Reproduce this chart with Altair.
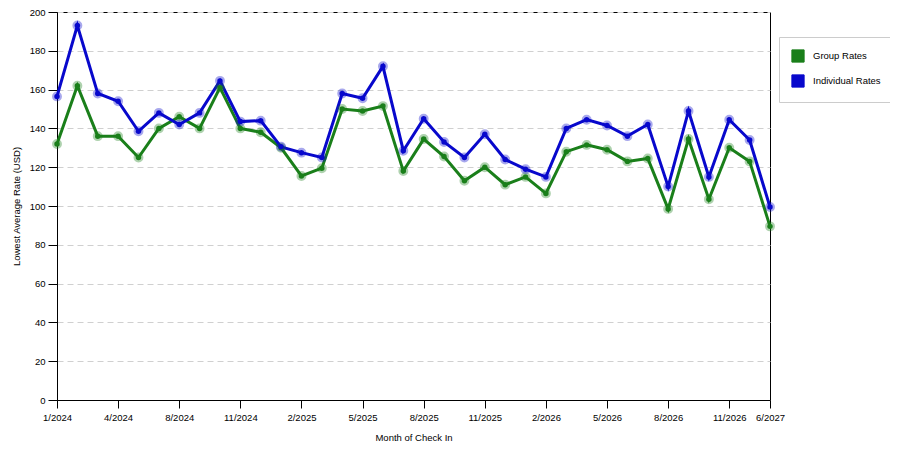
import altair as alt
import pandas as pd

months = [
    "1/2024", "2/2024", "3/2024", "4/2024", "5/2024", "7/2024",
    "8/2024", "9/2024", "10/2024", "11/2024", "12/2024", "1/2025",
    "2/2025", "3/2025", "4/2025", "5/2025", "6/2025", "7/2025",
    "8/2025", "9/2025", "10/2025", "11/2025", "12/2025", "1/2026",
    "2/2026", "3/2026", "4/2026", "5/2026", "6/2026", "7/2026",
    "8/2026", "9/2026", "10/2026", "11/2026", "12/2026", "6/2027",
]
tick_months = [
    "1/2024", "4/2024", "8/2024", "11/2024", "2/2025", "5/2025", "8/2025",
    "11/2025", "2/2026", "5/2026", "8/2026", "11/2026", "6/2027",
]
group_rates = [
    132, 162, 136, 136, 125, 140, 146, 140, 161, 140, 138, 130,
    115.5, 119.5, 150, 149, 151.5, 118, 134.5, 125.5, 113, 120, 111, 115,
    106.5, 128, 131.5, 129, 123, 124.5, 98.5, 134.5, 103.5, 130, 123, 89.5,
]
individual_rates = [
    156.5, 193, 158, 154, 138.5, 148, 142, 148, 164.5, 143.5, 144, 130.5,
    127.5, 125, 158, 155.5, 172, 128.5, 145, 133, 125, 137, 124, 119,
    115, 140, 144.5, 141.5, 136, 142, 110, 149, 115, 144.5, 134, 99.5,
]
series = ["Group Rates", "Individual Rates"]
colors = ["#1a7f1a", "#0808cc"]

df = pd.concat(
    [
        pd.DataFrame({"month": months, "rate": group_rates, "series": series[0]}),
        pd.DataFrame({"month": months, "rate": individual_rates, "series": series[1]}),
    ],
    ignore_index=True,
)

FONT = "Liberation Sans"

x = alt.X(
    "month:N",
    sort=months,
    scale=alt.Scale(type="point", padding=0),
    title="Month of Check In",
    axis=alt.Axis(
        values=tick_months, labelAngle=0, tickSize=8, labelPadding=4,
        grid=False, titlePadding=11, domainColor="#000", tickColor="#000",
    ),
)
y = alt.Y(
    "rate:Q",
    scale=alt.Scale(domain=[0, 200]),
    title="Lowest Average Rate (USD)",
    axis=alt.Axis(
        values=list(range(0, 201, 20)), tickSize=9, labelPadding=3,
        titlePadding=8, grid=True, gridColor="#d0d0d0", gridDash=[6, 4],
        domainColor="#000", tickColor="#000",
    ),
)
color_scale = alt.Scale(domain=series, range=colors)

legend = alt.Legend(
    title=None, orient="none", legendX=722, legendY=25,
    symbolType="square", symbolSize=150, symbolStrokeColor="#222",
    symbolStrokeWidth=1, symbolOpacity=1, strokeColor="#ccc",
    fillColor="#fff", padding=12, rowPadding=7, labelFontSize=9.5,
    labelFont=FONT, labelColor="#000", labelOffset=8,
)

lines = alt.Chart(df).mark_line(strokeWidth=3).encode(
    x=x, y=y, stroke=alt.Stroke("series:N", scale=color_scale, legend=legend),
    detail="series:N",
)
halo = alt.Chart(df).mark_point(size=55, filled=False, strokeWidth=2.5, opacity=0.35).encode(
    x=x, y=y, stroke=alt.Stroke("series:N", scale=color_scale, legend=legend),
)
dots = alt.Chart(df).mark_circle(size=30, opacity=1).encode(
    x=x, y=y, fill=alt.Fill("series:N", scale=color_scale, legend=legend),
)

chart = (
    alt.layer(lines, halo, dots)
    .properties(
        width=713, height=388,
        autosize=alt.AutoSizeParams(type="none"),
        padding={"left": 49, "top": 4, "right": 120, "bottom": 42},
    )
    .configure_view(stroke="#000", strokeWidth=1)
    .configure_axis(
        labelFont=FONT, labelFontSize=9.5, labelColor="#000",
        titleFont=FONT, titleFontSize=9.5, titleColor="#000",
        titleFontWeight="normal",
    )
)

chart.save("out.html", embed_options={"renderer": "svg", "actions": False})
